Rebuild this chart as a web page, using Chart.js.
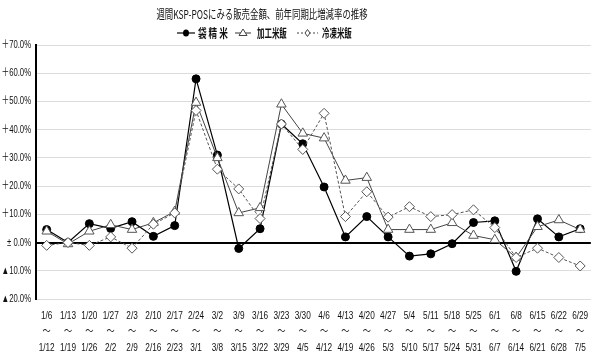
<!DOCTYPE html>
<html><head><meta charset="utf-8">
<script src="https://cdn.jsdelivr.net/npm/chart.js@4.4.1/dist/chart.umd.min.js"></script>
<style>html,body{margin:0;padding:0;background:#fff}#wrap{width:600px;height:364px}</style>
</head><body><div id="wrap"><canvas id="c" width="600" height="364"></canvas></div>
<script>
const chartTitle = '週間KSP-POSにみる販売金額、前年同期比増減率の推移';
const seriesNames = ['袋 精 米', '加工米飯', '冷凍米飯'];
const categories = ['1/6','1/13','1/20','1/27','2/3','2/10','2/17','2/24','3/2','3/9','3/16','3/23','3/30','4/6','4/13','4/20','4/27','5/4','5/11','5/18','5/25','6/1','6/8','6/15','6/22','6/29'];
const categoryEnds = ['1/12','1/19','1/26','2/2','2/9','2/16','2/23','3/1','3/8','3/15','3/22','3/29','4/5','4/12','4/19','4/26','5/3','5/10','5/17','5/24','5/31','6/7','6/14','6/21','6/28','7/5'];
const bagRice = [4.6, 0, 6.7, 5, 7.4, 2.2, 6, 58, 31, -2.1, 4.9, 42, 35, 19.7, 2, 9.2, 2, -4.8, -4, -0.4, 7.1, 7.7, -10.2, 8.4, 2, 4.9];
const processedRice = [4, -0.5, 4, 6.3, 4.6, 7, 11, 49.6, 30, 10.5, 12.3, 49, 38.7, 37, 22, 23, 4.6, 4.6, 4.6, 7, 2.5, 1, -5.3, 5.6, 8, 4.6];
const frozenRice = [-1, 0, -1, 2, -2, 6.5, 10.5, 46.8, 26, 19, 8.5, 42, 33, 45.8, 9.2, 18, 9, 12.7, 9.2, 9.9, 11.6, 5.3, -5.3, -2, -5.3, -8.3];
const yTickValues = [-20, -10, 0, 10, 20, 30, 40, 50, 60, 70];
const yTickLabels = ['▲20.0%', '▲10.0%', '± 0.0%', '＋10.0%', '＋20.0%', '＋30.0%', '＋40.0%', '＋50.0%', '＋60.0%', '＋70.0%'];

const LATIN = "'Liberation Sans', 'Noto Sans CJK JP', sans-serif";
const JP = "'Noto Sans CJK JP', sans-serif";

function drawScaledText(ctx, text, x, y, size, sx, weight) {
  ctx.save();
  ctx.translate(x, y);
  ctx.scale(sx, 1);
  ctx.font = (weight || 'normal') + ' ' + size + 'px ' + JP;
  ctx.fillStyle = '#111';
  ctx.textBaseline = 'middle';
  ctx.textAlign = 'left';
  ctx.fillText(text, 0, 0);
  ctx.restore();
}

// draw a scale's own tick labels horizontally condensed (the reference uses a narrow face)
function condenseLabels(scale, sx) {
  if (scale._condensed) return;
  scale._condensed = true;
  const proto = Object.getPrototypeOf(scale);
  scale.drawLabels = function (area) {
    const ctx = this.ctx;
    const orig = CanvasRenderingContext2D.prototype.fillText;
    ctx.fillText = function (t, x, y) {
      this.save(); this.translate(x, y); this.scale(sx, 1); orig.call(this, t, 0, 0); this.restore();
    };
    try { proto.drawLabels.call(this, area); } finally { delete ctx.fillText; }
  };
}

const condensePlugin = {
  id: 'condense',
  beforeDraw(chart) {
    condenseLabels(chart.scales.x, 0.75);
    condenseLabels(chart.scales.y, 0.7);
  }
};

const headerPlugin = {
  id: 'header',
  afterDraw(chart) {
    const ctx = chart.ctx;
    ctx.save();
    ctx.font = 'normal 12px ' + JP;
    const sx = 0.7;
    const w = ctx.measureText(chartTitle).width * sx;
    ctx.restore();
    drawScaledText(ctx, chartTitle, 262 - w / 2, 14, 12, sx, 'normal');
    const y = 33;
    ctx.save();
    ctx.strokeStyle = '#000'; ctx.lineWidth = 1.2; ctx.setLineDash([]);
    ctx.beginPath(); ctx.moveTo(177, y); ctx.lineTo(195, y); ctx.stroke();
    ctx.fillStyle = '#000';
    ctx.beginPath(); ctx.ellipse(186, y, 3, 3.6, 0, 0, Math.PI * 2); ctx.fill();
    ctx.strokeStyle = '#333'; ctx.lineWidth = 1;
    ctx.beginPath(); ctx.moveTo(235, y); ctx.lineTo(251, y); ctx.stroke();
    ctx.fillStyle = '#fff'; ctx.strokeStyle = '#444';
    ctx.beginPath(); ctx.moveTo(243, y - 4); ctx.lineTo(247, y + 2.5); ctx.lineTo(239, y + 2.5); ctx.closePath(); ctx.fill(); ctx.stroke();
    ctx.strokeStyle = '#444'; ctx.setLineDash([2, 2]);
    ctx.beginPath(); ctx.moveTo(297, y); ctx.lineTo(318, y); ctx.stroke();
    ctx.setLineDash([]);
    ctx.fillStyle = '#fff';
    ctx.beginPath(); ctx.moveTo(307.5, y - 3.5); ctx.lineTo(310, y); ctx.lineTo(307.5, y + 3.5); ctx.lineTo(305, y); ctx.closePath(); ctx.fill(); ctx.stroke();
    ctx.restore();
    drawScaledText(ctx, seriesNames[0], 198, y, 12, 0.72, 'bold');
    drawScaledText(ctx, seriesNames[1], 257, y, 12, 0.62, 'bold');
    drawScaledText(ctx, seriesNames[2], 322, y, 12, 0.62, 'bold');
  }
};

new Chart(document.getElementById('c'), {
  type: 'line',
  data: {
    labels: categories.map((c, i) => [c, '～', categoryEnds[i]]),
    datasets: [
      { label: seriesNames[0], data: bagRice, order: 3, borderColor: '#000', borderWidth: 1.2,
        pointStyle: 'circle', pointRadius: 4, pointBackgroundColor: '#000', pointBorderColor: '#000', pointBorderWidth: 1 },
      { label: seriesNames[1], data: processedRice, order: 2, borderColor: '#444', borderWidth: 1,
        pointStyle: 'triangle', pointRadius: 5.5, pointBackgroundColor: '#fff', pointBorderColor: '#555', pointBorderWidth: 1 },
      { label: seriesNames[2], data: frozenRice, order: 1, borderColor: '#555', borderWidth: 1, borderDash: [3, 2],
        pointStyle: 'rectRot', pointRadius: 5, pointBackgroundColor: '#fff', pointBorderColor: '#555', pointBorderWidth: 1 }
    ]
  },
  options: {
    responsive: false,
    animation: false,
    layout: { padding: { top: 45, right: 4, left: 0, bottom: 0 } },
    plugins: { legend: { display: false }, title: { display: false }, tooltip: { enabled: false } },
    elements: { line: { tension: 0 } },
    scales: {
      x: {
        offset: true,
        grid: { display: false, drawTicks: false },
        border: { display: false },
        ticks: { autoSkip: false, maxRotation: 0, minRotation: 0, padding: 9, color: '#111',
          font: { family: LATIN, size: 11, lineHeight: 1.45 } },
        afterFit(s) { s.height = 65; }
      },
      y: {
        min: -20, max: 70,
        afterBuildTicks(s) { s.ticks = yTickValues.map(v => ({ value: v })); },
        grid: { drawTicks: false,
          color: c => (c.tick && c.tick.value === 0) ? '#000' : '#dcdcdc',
          lineWidth: c => (c.tick && c.tick.value === 0) ? 2 : 1 },
        border: { display: true, color: '#000', width: 2 },
        ticks: { padding: 5, color: '#111', font: { family: LATIN, size: 11 },
          callback: (v) => yTickLabels[yTickValues.indexOf(v)] },
        afterFit(s) { s.width = 36; }
      }
    }
  },
  plugins: [condensePlugin, headerPlugin]
});
</script></body></html>
